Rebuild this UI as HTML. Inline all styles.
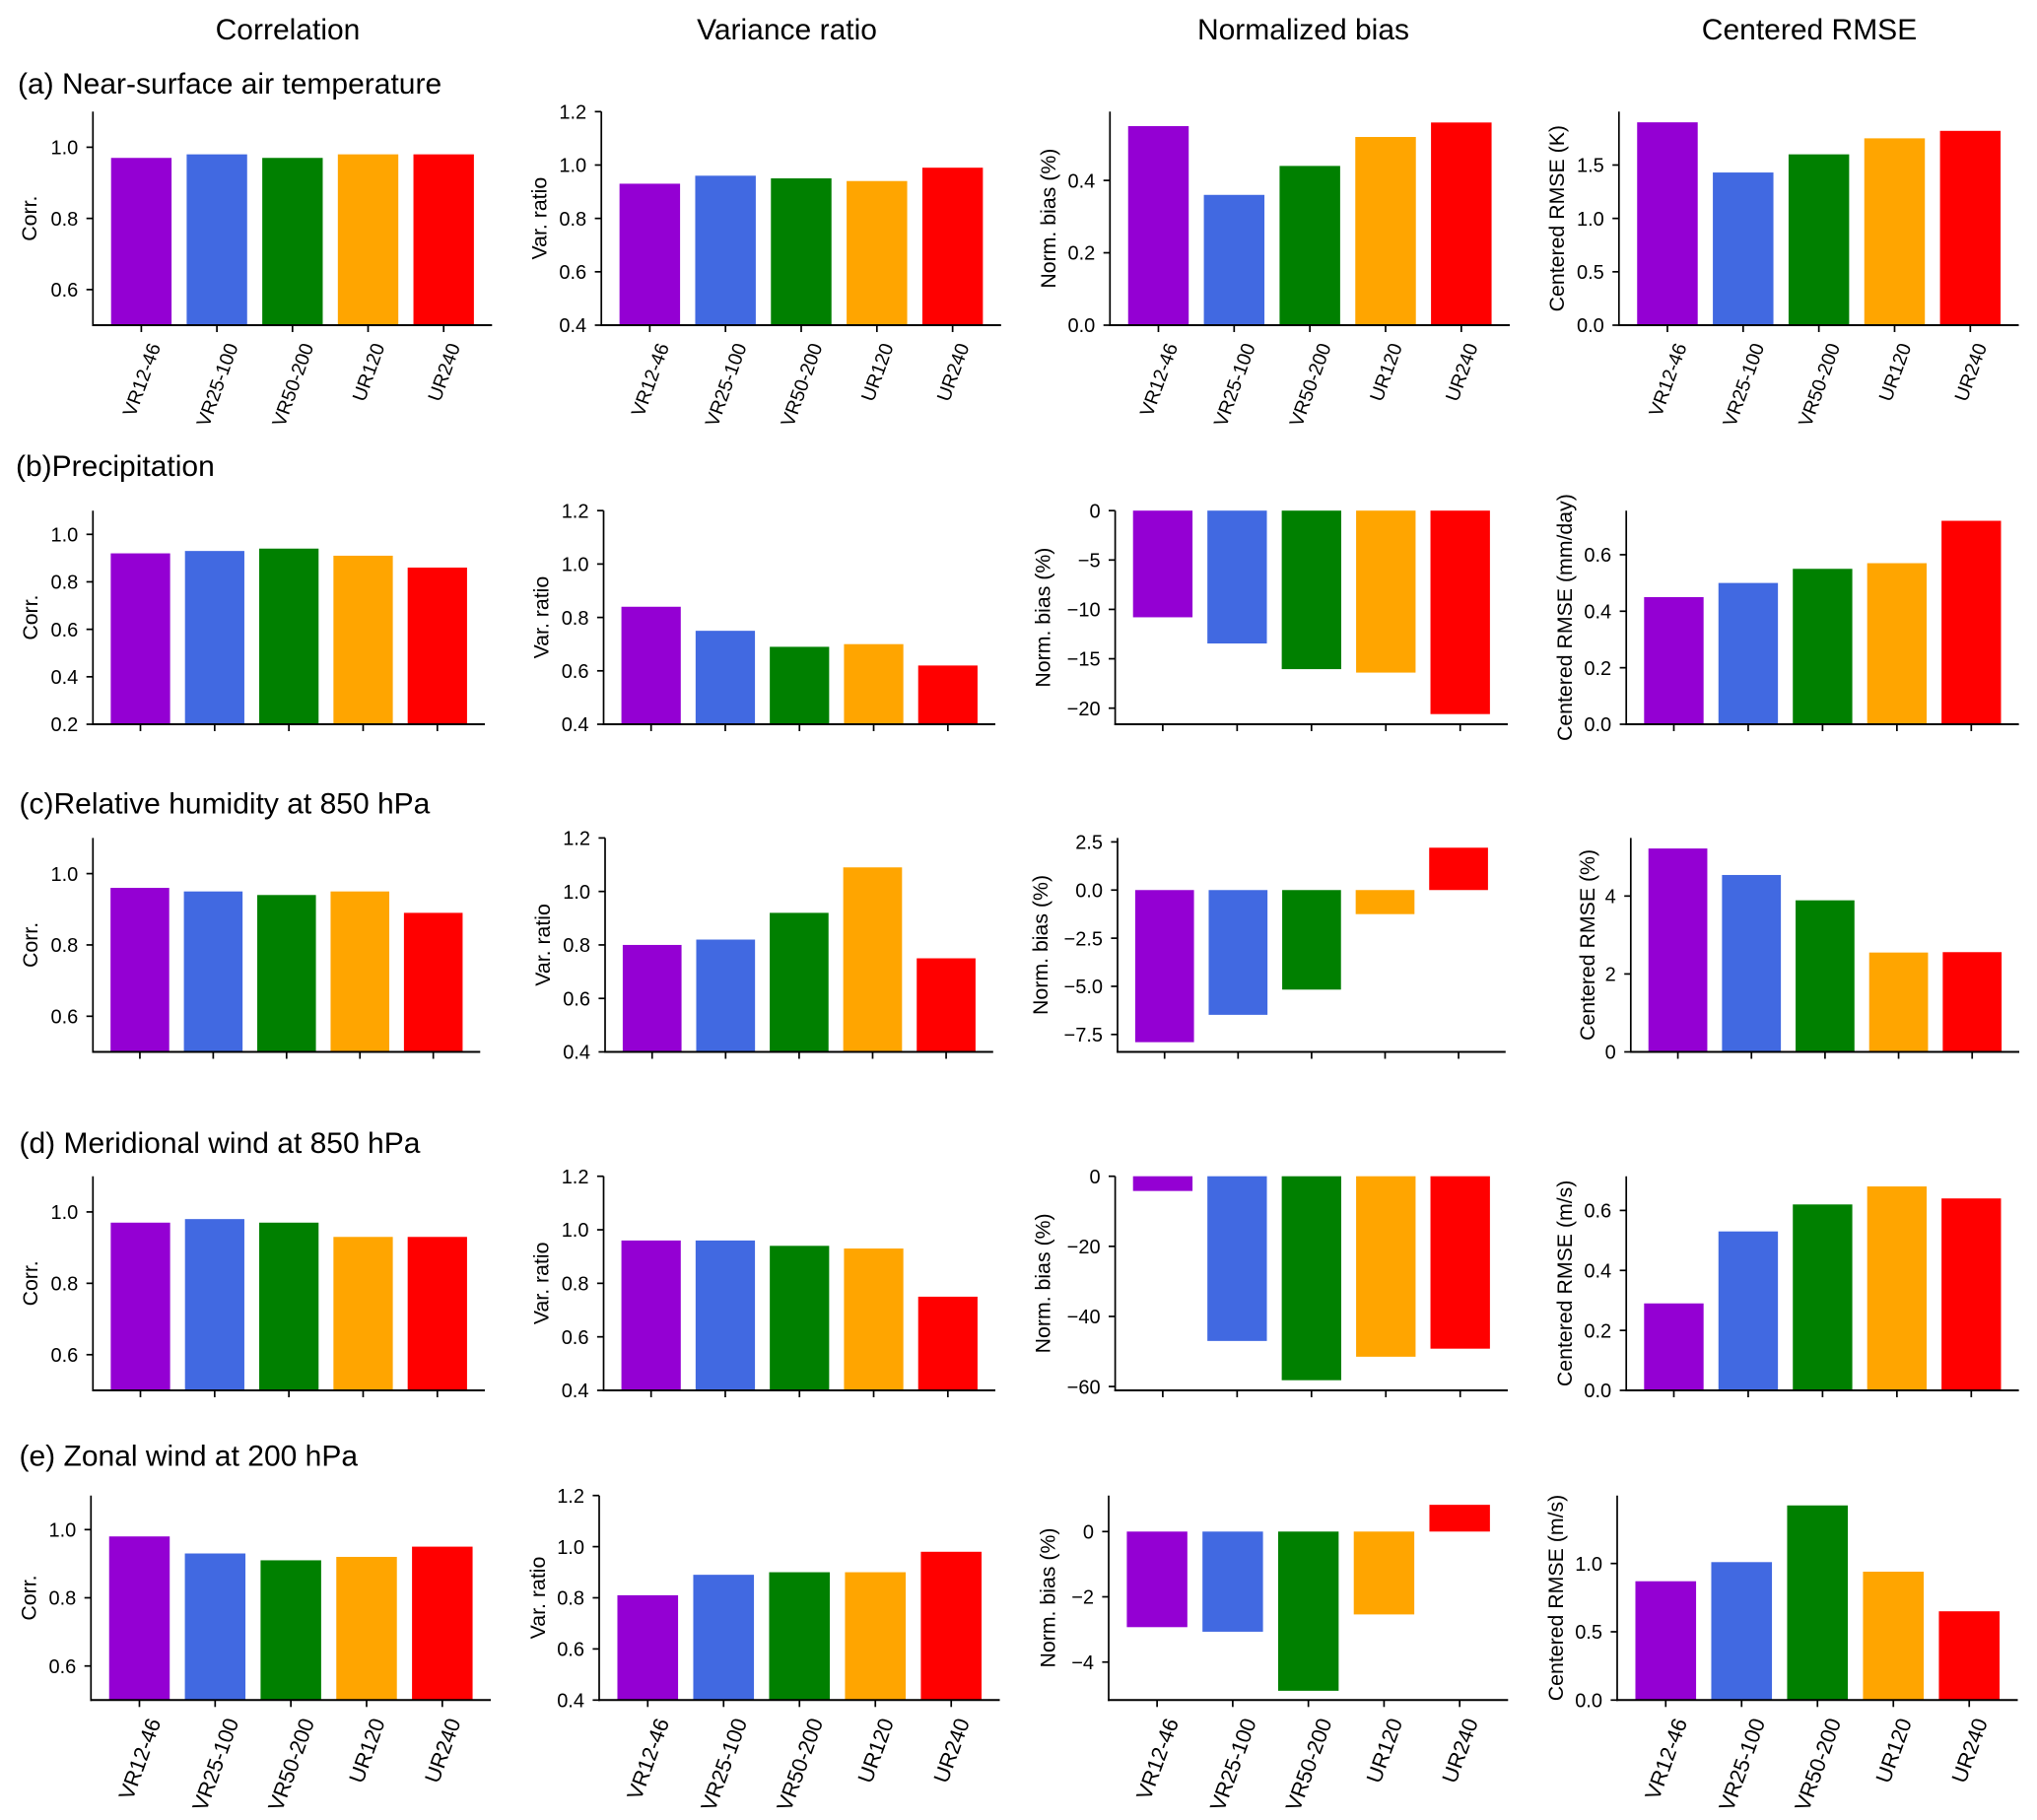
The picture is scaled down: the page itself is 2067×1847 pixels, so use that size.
<!DOCTYPE html>
<html lang="en">
<head>
<meta charset="utf-8">
<title>Model evaluation metrics bar charts</title>
<style>
html,body{margin:0;padding:0;background:#fff;}
svg{display:block;}
text{font-family:"Liberation Sans",Arial,Helvetica,sans-serif;fill:#000;}
.col-title{font-size:30px;text-anchor:middle;}
.row-title{font-size:30px;}
</style>
</head>
<body>
<svg id="figure" xmlns="http://www.w3.org/2000/svg" width="2067" height="1847" viewBox="0 0 2067 1847">
  <rect x="0" y="0" width="2067" height="1847" fill="#ffffff"></rect>
  <text class="col-title" x="292" y="40">Correlation</text>
  <text class="col-title" x="798.5" y="40">Variance ratio</text>
  <text class="col-title" x="1322.5" y="40">Normalized bias</text>
  <text class="col-title" x="1836" y="40">Centered RMSE</text>
  <text class="row-title" x="18" y="95">(a) Near-surface air temperature</text>
  <text class="row-title" x="16" y="483">(b)Precipitation</text>
  <text class="row-title" x="19.5" y="825.5">(c)Relative humidity at 850 hPa</text>
  <text class="row-title" x="19.5" y="1170">(d) Meridional wind at 850 hPa</text>
  <text class="row-title" x="19.5" y="1487.5">(e) Zonal wind at 200 hPa</text>
</svg>
<script>
// ---- categories ----
const categories = ['VR12-46', 'VR25-100', 'VR50-200', 'UR120', 'UR240'];

// ---- series values ----
const corrA = [0.97, 0.98, 0.97, 0.98, 0.98];
const varA = [0.93, 0.96, 0.95, 0.94, 0.99];
const biasA = [0.55, 0.36, 0.44, 0.52, 0.56];
const rmseA = [1.9, 1.43, 1.6, 1.75, 1.82];

const corrB = [0.92, 0.93, 0.94, 0.91, 0.86];
const varB = [0.84, 0.75, 0.69, 0.70, 0.62];
const biasB = [-10.8, -13.45, -16.05, -16.4, -20.6];
const rmseB = [0.45, 0.5, 0.55, 0.57, 0.72];

const corrC = [0.96, 0.95, 0.94, 0.95, 0.89];
const varC = [0.8, 0.82, 0.92, 1.09, 0.75];
const biasC = [-7.9, -6.48, -5.17, -1.25, 2.2];
const rmseC = [5.22, 4.54, 3.89, 2.55, 2.56];

const corrD = [0.97, 0.98, 0.97, 0.93, 0.93];
const varD = [0.96, 0.96, 0.94, 0.93, 0.75];
const biasD = [-4.2, -47, -58.2, -51.5, -49.2];
const rmseD = [0.29, 0.53, 0.62, 0.68, 0.64];

const corrE = [0.98, 0.93, 0.91, 0.92, 0.95];
const varE = [0.81, 0.89, 0.9, 0.9, 0.98];
const biasE = [-2.93, -3.07, -4.88, -2.54, 0.82];
const rmseE = [0.87, 1.01, 1.425, 0.94, 0.65];

// ---- tick labels ----
const corrTicks = ['0.6', '0.8', '1.0'];
const corrTicksB = ['0.2', '0.4', '0.6', '0.8', '1.0'];
const varTicks = ['0.4', '0.6', '0.8', '1.0', '1.2'];
const biasTicksA = ['0.0', '0.2', '0.4'];
const rmseTicksA = ['0.0', '0.5', '1.0', '1.5'];
const biasTicksB = ['0', '−5', '−10', '−15', '−20'];
const rmseTicksB = ['0.0', '0.2', '0.4', '0.6'];
const biasTicksC = ['2.5', '0.0', '−2.5', '−5.0', '−7.5'];
const rmseTicksC = ['0', '2', '4'];
const biasTicksD = ['0', '−20', '−40', '−60'];
const rmseTicksD = ['0.0', '0.2', '0.4', '0.6'];
const biasTicksE = ['0', '−2', '−4'];
const rmseTicksE = ['0.0', '0.5', '1.0'];

// ---- axis limits ----
const corrLimits = [0.5, 1.1];
const corrLimitsB = [0.2, 1.1];
const varLimits = [0.4, 1.2];
const biasLimitsA = [0, 0.59];
const rmseLimitsA = [0, 2.0];
const biasLimitsB = [-21.63, 0];
const rmseLimitsB = [0, 0.756];
const biasLimitsC = [-8.405, 2.705];
const rmseLimitsC = [0, 5.49];
const biasLimitsD = [-61.1, 0];
const rmseLimitsD = [0, 0.714];
const biasLimitsE = [-5.165, 1.105];
const rmseLimitsE = [0, 1.4976];

// ---- y-axis titles ----
const corrTitle = 'Corr.';
const varTitle = 'Var. ratio';
const biasTitle = 'Norm. bias (%)';

// ---- styles ----
const barColors = ['#9400D3', '#4169E1', '#008000', '#FFA500', '#FF0000'];
const TICK_FONT = 20;
const LABEL_FONT = 21.3;
const ROTATION = 70;

// ---- layout (one entry per row) ----
const layoutA = {top: 113.3, bottom: 330, xFont: 19.6, left: [94.3, 610.2, 1126.3, 1642.8], right: [499.3, 1015.8, 1532, 2048.5], titleX: [30, 547.5, 1064, 1580]};
const layoutB = {top: 518.2, bottom: 735, xFont: 0, left: [94.3, 612.5, 1131.6, 1650.2], right: [492, 1010, 1530, 2048.6], titleX: [31, 549.5, 1058.4, 1588]};
const layoutC = {top: 850.4, bottom: 1067.5, xFont: 0, left: [94.3, 614, 1134, 1654.8], right: [487.3, 1007.8, 1527.8, 2049], titleX: [31, 551, 1055.8, 1611]};
const layoutD = {top: 1193.7, bottom: 1411, xFont: 0, left: [94.3, 612.5, 1131.6, 1650.2], right: [492, 1010, 1530, 2048.6], titleX: [31, 549.5, 1058.4, 1588]};
const layoutE = {top: 1517.7, bottom: 1725.3, xFont: 21.8, left: [92.3, 608, 1125, 1641], right: [498, 1014.5, 1530.3, 2047.5], titleX: [29.7, 546, 1063.7, 1579]};

const rows = [
  {id: 'a', layout: layoutA, panels: [
    {key: 'correlation', values: corrA, ticks: corrTicks, limits: corrLimits, title: corrTitle},
    {key: 'variance', values: varA, ticks: varTicks, limits: varLimits, title: varTitle},
    {key: 'bias', values: biasA, ticks: biasTicksA, limits: biasLimitsA, title: biasTitle},
    {key: 'rmse', values: rmseA, ticks: rmseTicksA, limits: rmseLimitsA, title: 'Centered RMSE (K)'}]},
  {id: 'b', layout: layoutB, panels: [
    {key: 'correlation', values: corrB, ticks: corrTicksB, limits: corrLimitsB, title: corrTitle},
    {key: 'variance', values: varB, ticks: varTicks, limits: varLimits, title: varTitle},
    {key: 'bias', values: biasB, ticks: biasTicksB, limits: biasLimitsB, title: biasTitle},
    {key: 'rmse', values: rmseB, ticks: rmseTicksB, limits: rmseLimitsB, title: 'Centered RMSE (mm/day)'}]},
  {id: 'c', layout: layoutC, panels: [
    {key: 'correlation', values: corrC, ticks: corrTicks, limits: corrLimits, title: corrTitle},
    {key: 'variance', values: varC, ticks: varTicks, limits: varLimits, title: varTitle},
    {key: 'bias', values: biasC, ticks: biasTicksC, limits: biasLimitsC, title: biasTitle},
    {key: 'rmse', values: rmseC, ticks: rmseTicksC, limits: rmseLimitsC, title: 'Centered RMSE (%)'}]},
  {id: 'd', layout: layoutD, panels: [
    {key: 'correlation', values: corrD, ticks: corrTicks, limits: corrLimits, title: corrTitle},
    {key: 'variance', values: varD, ticks: varTicks, limits: varLimits, title: varTitle},
    {key: 'bias', values: biasD, ticks: biasTicksD, limits: biasLimitsD, title: biasTitle},
    {key: 'rmse', values: rmseD, ticks: rmseTicksD, limits: rmseLimitsD, title: 'Centered RMSE (m/s)'}]},
  {id: 'e', layout: layoutE, panels: [
    {key: 'correlation', values: corrE, ticks: corrTicks, limits: corrLimits, title: corrTitle},
    {key: 'variance', values: varE, ticks: varTicks, limits: varLimits, title: varTitle},
    {key: 'bias', values: biasE, ticks: biasTicksE, limits: biasLimitsE, title: biasTitle},
    {key: 'rmse', values: rmseE, ticks: rmseTicksE, limits: rmseLimitsE, title: 'Centered RMSE (m/s)'}]}
];

const NS = 'http://www.w3.org/2000/svg';
const figure = document.getElementById('figure');

function makeEl(tag, attrs, parent) {
  const el = document.createElementNS(NS, tag);
  for (const k in attrs) el.setAttribute(k, attrs[k]);
  parent.appendChild(el);
  return el;
}

function drawPanel(row, panel, col) {
  const L = row.layout;
  const x0 = L.left[col], x1 = L.right[col], top = L.top, bottom = L.bottom;
  const prefix = row.id + '-' + panel.key;

  // axis functions: matplotlib-style xlim with 5% margin around 0.8-wide bars
  const xMin = -0.64, xMax = categories.length - 1 + 0.64;
  const xScale = function (i) { return x0 + (i - xMin) / (xMax - xMin) * (x1 - x0); };
  const yScale = function (v) { return bottom - (v - panel.limits[0]) / (panel.limits[1] - panel.limits[0]) * (bottom - top); };
  const base = (panel.limits[0] <= 0 && panel.limits[1] >= 0) ? 0 : panel.limits[0];
  const barW = xScale(0.8) - xScale(0);

  const g = makeEl('g', {}, figure);
  
  

  // bars
  panel.values.forEach(function (v, i) {
    const yA = yScale(Math.max(v, base));
    const yB = yScale(Math.min(v, base));
    const bar = makeEl('rect', {x: xScale(i) - barW / 2, y: yA, width: barW, height: Math.max(0, yB - yA), fill: barColors[i]}, g);
    
    
  });

  // spines
  const ySpine = makeEl('line', {x1: x0, x2: x0, y1: top, y2: bottom + 1, stroke: '#000', 'stroke-width': 1.7}, g);
  
  
  const xSpine = makeEl('line', {x1: x0 - 0.8, x2: x1, y1: bottom, y2: bottom, stroke: '#000', 'stroke-width': 2}, g);
  
  

  // y ticks
  panel.ticks.forEach(function (label) {
    const v = Number(label.replace('−', '-'));
    const y = yScale(v);
    const tick = makeEl('line', {x1: x0 - 6.6, x2: x0, y1: y, y2: y, stroke: '#000', 'stroke-width': 1.7}, g);
    
    
    const text = makeEl('text', {x: x0 - 15, y: y + TICK_FONT * 0.36, 'text-anchor': 'end', 'font-size': TICK_FONT}, g);
    text.textContent = label;
    
    
  });

  // x ticks + optional rotated labels
  categories.forEach(function (cat, i) {
    const x = xScale(i);
    const tick = makeEl('line', {x1: x, x2: x, y1: bottom, y2: bottom + 7, stroke: '#000', 'stroke-width': 1.7}, g);
    
    
    if (L.xFont > 0) {
      const text = makeEl('text', {x: x, y: 0, 'text-anchor': 'middle', 'font-size': L.xFont}, g);
      text.textContent = cat;
      
      
      const len = text.getComputedTextLength();
      const rad = ROTATION * Math.PI / 180;
      const extent = len * Math.sin(rad) + L.xFont * 0.72 * Math.cos(rad);
      const cy = bottom + 16.5 + extent / 2;
      text.setAttribute('y', cy + L.xFont * 0.36);
      text.setAttribute('transform', 'rotate(' + (-ROTATION) + ' ' + x + ' ' + cy + ')');
    }
  });

  // y-axis title
  const tx = L.titleX[col];
  const ty = (top + bottom) / 2;
  const title = makeEl('text', {x: tx, y: ty, 'text-anchor': 'middle', 'font-size': LABEL_FONT, 'dominant-baseline': 'central', transform: 'rotate(-90 ' + tx + ' ' + ty + ')'}, g);
  title.textContent = panel.title;
  
  
}

rows.forEach(function (row) {
  row.panels.forEach(function (panel, col) {
    drawPanel(row, panel, col);
  });
});
</script>
</body>
</html>
